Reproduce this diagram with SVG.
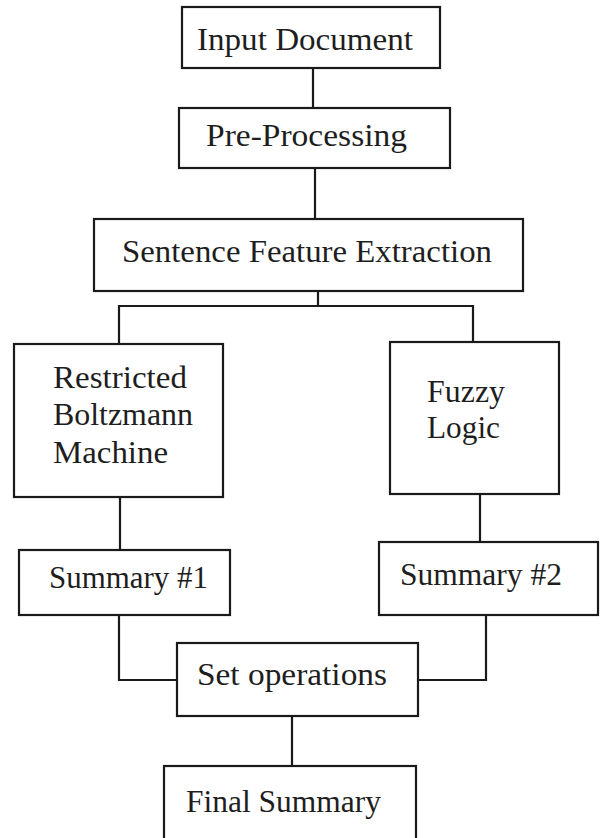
<svg xmlns="http://www.w3.org/2000/svg" width="600" height="838" viewBox="0 0 600 838">
  <style>
    .box { fill: #ffffff; stroke: #1a1a1a; stroke-width: 2.2; }
    .wire { fill: none; stroke: #1a1a1a; stroke-width: 2.2; }
    text { font-family: 'Liberation Serif', 'DejaVu Serif', serif; font-size: 32px; fill: #1e1e1e; }
  </style>
  <rect x="0" y="0" width="600" height="838" fill="#ffffff"/>

  <!-- connectors -->
  <g id="connectors">
    <line class="wire" x1="313" y1="68" x2="313" y2="108"/>
    <line class="wire" x1="315" y1="168" x2="315" y2="219"/>
    <polyline class="wire" points="318,291 318,306"/>
    <polyline class="wire" points="119,344 119,306 473,306 473,342"/>
    <line class="wire" x1="120" y1="497" x2="120" y2="550"/>
    <line class="wire" x1="480" y1="494" x2="480" y2="542"/>
    <polyline class="wire" points="119,614 119,680 177,680"/>
    <polyline class="wire" points="486,614 486,680 418,680"/>
    <line class="wire" x1="292" y1="716" x2="292" y2="766"/>
  </g>

  <g id="input-document">
    <rect class="box" x="182" y="7" width="258" height="61"/>
    <text x="197" y="50" textLength="216" lengthAdjust="spacingAndGlyphs">Input Document</text>
  </g>

  <g id="pre-processing">
    <rect class="box" x="179" y="108" width="271" height="60"/>
    <text x="206" y="146" textLength="201" lengthAdjust="spacingAndGlyphs">Pre-Processing</text>
  </g>

  <g id="sentence-feature-extraction">
    <rect class="box" x="94" y="219" width="429" height="72"/>
    <text x="122" y="262" textLength="370" lengthAdjust="spacingAndGlyphs">Sentence Feature Extraction</text>
  </g>

  <g id="rbm">
    <rect class="box" x="14" y="344" width="209" height="153"/>
    <text x="53" y="388" textLength="134" lengthAdjust="spacingAndGlyphs">Restricted</text>
    <text x="53" y="425" textLength="140" lengthAdjust="spacingAndGlyphs">Boltzmann</text>
    <text x="53" y="463" textLength="115" lengthAdjust="spacingAndGlyphs">Machine</text>
  </g>

  <g id="fuzzy-logic">
    <rect class="box" x="390" y="342" width="169" height="152"/>
    <text x="427" y="402" textLength="78" lengthAdjust="spacingAndGlyphs">Fuzzy</text>
    <text x="427" y="438" textLength="73" lengthAdjust="spacingAndGlyphs">Logic</text>
  </g>

  <g id="summary-1">
    <rect class="box" x="19" y="550" width="211" height="65"/>
    <text x="49" y="588" textLength="159" lengthAdjust="spacingAndGlyphs">Summary #1</text>
  </g>

  <g id="summary-2">
    <rect class="box" x="379" y="542" width="219" height="73"/>
    <text x="400" y="585" textLength="162" lengthAdjust="spacingAndGlyphs">Summary #2</text>
  </g>

  <g id="set-operations">
    <rect class="box" x="177" y="643" width="241" height="73"/>
    <text x="197" y="685" textLength="190" lengthAdjust="spacingAndGlyphs">Set operations</text>
  </g>

  <g id="final-summary">
    <rect class="box" x="164" y="766" width="252" height="84"/>
    <text x="186" y="812" textLength="195" lengthAdjust="spacingAndGlyphs">Final Summary</text>
  </g>
</svg>
